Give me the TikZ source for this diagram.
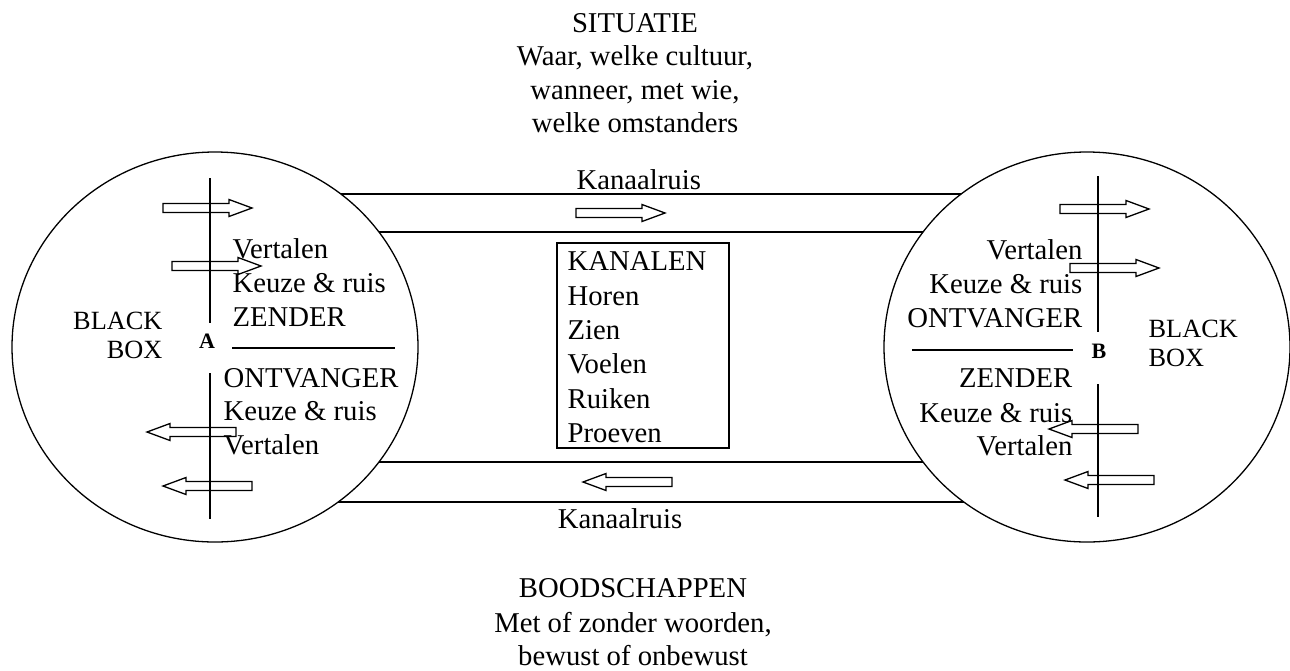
\documentclass[tikz,border=0pt]{standalone}
\usepackage{fontspec}
\setmainfont{Liberation Serif}
\begin{document}
\begin{tikzpicture}[x=0.5pt,y=-0.5pt,line width=0.65pt,
  txt/.style={inner sep=0pt,font=\fontsize{14.35}{17}\selectfont},
  boxtxt/.style={inner sep=0pt,font=\fontsize{13.15}{14.5}\selectfont},
  letter/.style={inner sep=0pt,font=\fontsize{11}{13}\selectfont\bfseries},
  person/.style={draw,fill=white},
  rarr/.pic={\draw (0,-4.5) -- (66,-4.5) -- (66,-8.5) -- (89,0) -- (66,8.5) -- (66,4.5) -- (0,4.5) -- cycle;},
  larr/.pic={\draw (0,-4.5) -- (-66,-4.5) -- (-66,-8.5) -- (-89,0) -- (-66,8.5) -- (-66,4.5) -- (0,4.5) -- cycle;}]
\useasboundingbox (0,0) rectangle (1290,670);

% situation text on top
\node[txt,anchor=base] (sit1) at (635,32) {SITUATIE};
\node[txt,anchor=base] (sit2) at (635,65) {Waar, welke cultuur,};
\node[txt,anchor=base] (sit3) at (635,99) {wanneer, met wie,};
\node[txt,anchor=base] (sit4) at (635,132) {welke omstanders};

% the two channels between the persons
\coordinate (ca) at (215,347);
\coordinate (cb) at (1087,347);
\draw (215,194) -- (1087,194);
\draw (215,232) -- (1087,232);
\draw (215,462) -- (1087,462);
\draw (215,502) -- (1087,502);
\node[txt,anchor=base west] (noise1) at (576,189) {Kanaalruis};
\node[txt,anchor=base] (noise2) at (620,528) {Kanaalruis};
\pic at (576,213) {rarr};
\pic at (672,482) {larr};

% list of channels
\draw (557,243) rectangle (729,448);
\node[txt,anchor=base west] (k1) at (567,270) {KANALEN};
\node[txt,anchor=base west] (k2) at (567,305) {Horen};
\node[txt,anchor=base west] (k3) at (567,339) {Zien};
\node[txt,anchor=base west] (k4) at (567,373) {Voelen};
\node[txt,anchor=base west] (k5) at (567,408) {Ruiken};
\node[txt,anchor=base west] (k6) at (567,442) {Proeven};

% person A
\path[person] (ca) ellipse[x radius=203,y radius=195];
\draw (210,178) -- (210,323);
\draw (210,373) -- (210,519);
\node[letter,anchor=base] (A) at (207,348) {A};
\draw (232,348) -- (395,348);
\pic at (163,208) {rarr};
\pic at (172,266) {rarr};
\pic at (236,432) {larr};
\pic at (252,486) {larr};
\node[boxtxt,anchor=base east] (ba1) at (163,329) {BLACK};
\node[boxtxt,anchor=base east] (ba2) at (163,358) {BOX};
\node[txt,anchor=base west] (a1) at (232,258) {Vertalen};
\node[txt,anchor=base west] (a2) at (232,292) {Keuze \& ruis};
\node[txt,anchor=base west] (a3) at (232,326) {ZENDER};
\node[txt,anchor=base west] (a4) at (223,387) {ONTVANGER};
\node[txt,anchor=base west] (a5) at (223,420) {Keuze \& ruis};
\node[txt,anchor=base west] (a6) at (223,454) {Vertalen};

% person B
\path[person] (cb) ellipse[x radius=203,y radius=195];
\draw (1098,176) -- (1098,332);
\draw (1098,384) -- (1098,517);
\node[letter,anchor=base] (B) at (1099,358) {B};
\draw (912,350) -- (1073,350);
\pic at (1060,209) {rarr};
\pic at (1070,268) {rarr};
\pic at (1138,429) {larr};
\pic at (1154,480) {larr};
\node[boxtxt,anchor=base west] (bb1) at (1148,337) {BLACK};
\node[boxtxt,anchor=base west] (bb2) at (1148,366) {BOX};
\node[txt,anchor=base east] (b1) at (1083,259) {Vertalen};
\node[txt,anchor=base east] (b2) at (1083,293) {Keuze \& ruis};
\node[txt,anchor=base east] (b3) at (1083,327) {ONTVANGER};
\node[txt,anchor=base east] (b4) at (1073,387) {ZENDER};
\node[txt,anchor=base east] (b5) at (1073,422) {Keuze \& ruis};
\node[txt,anchor=base east] (b6) at (1073,455) {Vertalen};

% messages text at the bottom
\node[txt,anchor=base] (msg1) at (633,597) {BOODSCHAPPEN};
\node[txt,anchor=base] (msg2) at (633,632) {Met of zonder woorden,};
\node[txt,anchor=base] (msg3) at (633,665) {bewust of onbewust};
\end{tikzpicture}
\end{document}
